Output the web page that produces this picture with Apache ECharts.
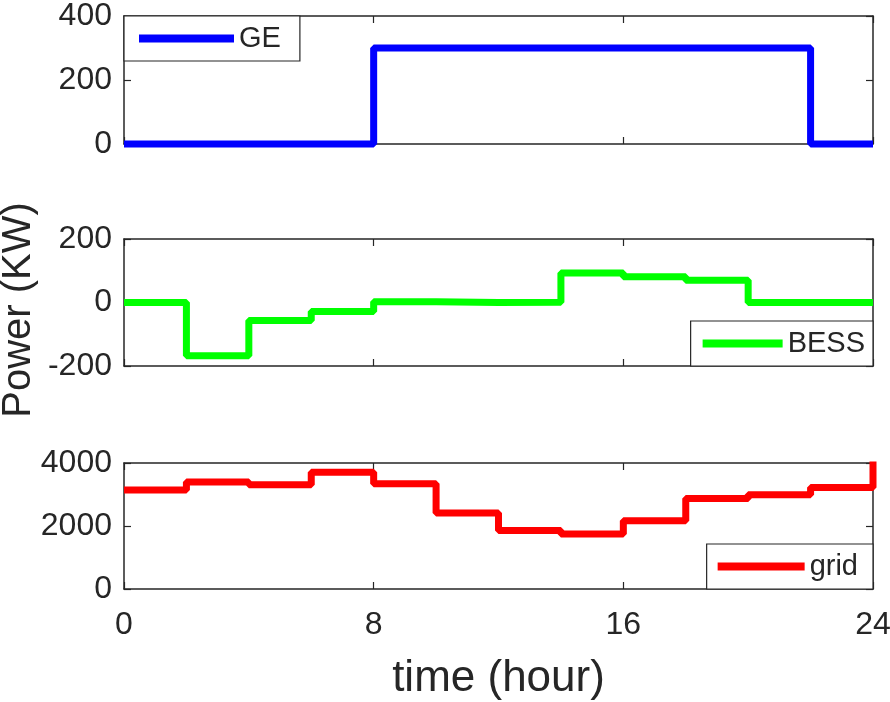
<!DOCTYPE html>
<html>
<head>
<meta charset="utf-8">
<script src="https://cdn.jsdelivr.net/npm/echarts@6/dist/echarts.min.js"></script>
<style>
  html, body { margin: 0; padding: 0; background: #fff; }
  #chart { width: 890px; height: 702px; }
</style>
</head>
<body>
<div id="chart"></div>
<script>
// Time stamps of each 2-hour dispatch interval (hours), plus the end of the day
const hours = [0, 2, 4, 6, 8, 10, 12, 14, 16, 18, 20, 22, 24];

// Generator output (kW), held over each interval
const geValues = [0, 0, 0, 0, 300, 300, 300, 300, 300, 300, 300, 0, 0];
// Battery storage power (kW); negative while charging
const bessValues = [0, -168, -57, -28, 2, 0, 1, 93, 81, 70, 0, 0, 0];
// Power drawn from the grid (kW)
const gridValues = [3140, 3395, 3310, 3710, 3340, 2410, 1860, 1750, 2165, 2875, 2995, 3225, 4050];

// Axis tick values
const timeTicks = [0, 8, 16, 24];
const geTicks = [0, 200, 400];
const bessTicks = [-200, 0, 200];
const gridTicks = [0, 2000, 4000];

const INK = '#262626';
const FONT = '"Liberation Sans", Arial, Helvetica, sans-serif';

function pairs(values) {
  return hours.map((h, i) => [h, values[i]]);
}

// Panel layout (pixels)
const panels = [
  { top: 16, height: 128 },
  { top: 239, height: 127 },
  { top: 463, height: 126 }
];

const grids = panels.map(p => ({
  left: 124, right: 17, top: p.top, height: p.height, outerBoundsMode: 'none'
}));

function xAxisFor(gridIndex, bottom) {
  const labelled = bottom && gridIndex === 2;
  return {
    type: 'value', gridIndex: gridIndex, position: bottom ? 'bottom' : 'top',
    min: timeTicks[0], max: timeTicks[timeTicks.length - 1],
    interval: timeTicks[1] - timeTicks[0],
    axisLine: { show: true, onZero: false, lineStyle: { color: INK, width: 1.5 } },
    axisTick: { show: true, inside: true, length: 7, lineStyle: { color: INK, width: 1.2 } },
    axisLabel: { show: labelled, color: INK, fontSize: 32, fontFamily: FONT, margin: 20,
                 formatter: v => String(v) },
    splitLine: { show: false },
    name: labelled ? 'time (hour)' : '',
    nameLocation: 'middle', nameGap: 68,
    nameTextStyle: { color: INK, fontSize: 44, fontFamily: FONT }
  };
}

function yAxisFor(gridIndex, ticks, left) {
  return {
    type: 'value', gridIndex: gridIndex, position: left ? 'left' : 'right',
    min: ticks[0], max: ticks[ticks.length - 1], interval: ticks[1] - ticks[0],
    axisLine: { show: true, onZero: false, lineStyle: { color: INK, width: 1.5 } },
    axisTick: { show: true, inside: true, length: 7, lineStyle: { color: INK, width: 1.2 } },
    axisLabel: { show: left, color: INK, fontSize: 32, fontFamily: FONT, margin: 12,
                 formatter: v => String(v) },
    splitLine: { show: false }
  };
}

const legendBase = {
  orient: 'horizontal',
  backgroundColor: '#fff',
  borderColor: INK, borderWidth: 1.2, borderRadius: 0,
  icon: 'rect', itemHeight: 8, itemGap: 0,
  textStyle: { color: INK, fontSize: 29, fontFamily: FONT },
  selectedMode: false
};

const option = {
  animation: false,
  backgroundColor: '#fff',
  grid: grids,
  xAxis: [
    xAxisFor(0, true), xAxisFor(1, true), xAxisFor(2, true),
    xAxisFor(0, false), xAxisFor(1, false), xAxisFor(2, false)
  ],
  yAxis: [
    yAxisFor(0, geTicks, true), yAxisFor(1, bessTicks, true), yAxisFor(2, gridTicks, true),
    yAxisFor(0, geTicks, false), yAxisFor(1, bessTicks, false), yAxisFor(2, gridTicks, false)
  ],
  legend: [
    Object.assign({}, legendBase, { data: ['GE'], left: 124, top: 16, itemWidth: 95, padding: [8, 19, 8, 15] }),
    Object.assign({}, legendBase, { data: ['BESS'], right: 17, top: 321, itemWidth: 80, padding: [8, 8, 8, 12] }),
    Object.assign({}, legendBase, { data: ['grid'], right: 17, top: 544, itemWidth: 87, padding: [8, 15, 8, 11] })
  ],
  // Shared y-axis title for the three panels
  graphic: [{
    type: 'text', x: 19, y: 310, rotation: Math.PI / 2,
    style: {
      text: 'Power (KW)', fill: INK, font: '40px ' + FONT,
      textAlign: 'center', textVerticalAlign: 'middle'
    }
  }],
  series: [
    { name: 'GE', type: 'line', step: 'end', xAxisIndex: 0, yAxisIndex: 0,
      data: pairs(geValues), showSymbol: false, clip: false,
      lineStyle: { color: '#0000ff', width: 7 }, itemStyle: { color: '#0000ff' } },
    { name: 'BESS', type: 'line', step: 'end', xAxisIndex: 1, yAxisIndex: 1,
      data: pairs(bessValues), showSymbol: false, clip: false,
      lineStyle: { color: '#00ff00', width: 7 }, itemStyle: { color: '#00ff00' } },
    { name: 'grid', type: 'line', step: 'end', xAxisIndex: 2, yAxisIndex: 2,
      data: pairs(gridValues), showSymbol: false, clip: false,
      lineStyle: { color: '#ff0000', width: 7 }, itemStyle: { color: '#ff0000' } }
  ]
};

const chart = echarts.init(document.getElementById('chart'), null, { renderer: 'canvas' });
chart.setOption(option);
</script>
</body>
</html>
